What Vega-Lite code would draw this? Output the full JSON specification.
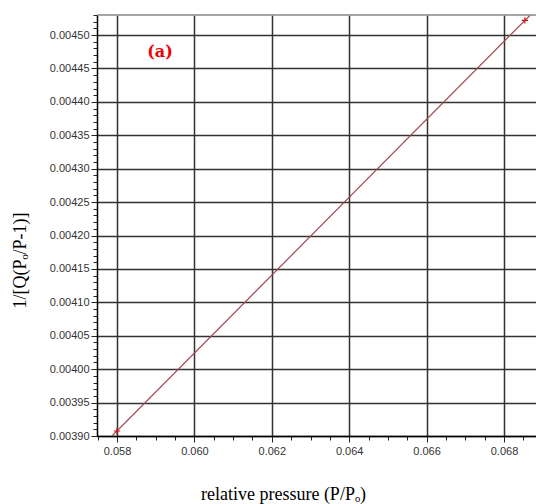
{
  "$schema": "https://vega.github.io/schema/vega-lite/v6.json",
  "autosize": "none",
  "width": 439,
  "height": 421,
  "padding": {"left": 97, "top": 15, "right": 0, "bottom": 68},
  "background": "white",
  "config": {
    "view": {"stroke": null},
    "axis": {"labelFont": "Liberation Sans", "labelFontSize": 11, "labelColor": "#333", "titleFont": "Liberation Serif", "titleFontSize": 18, "titleFontWeight": "normal", "titleColor": "#000", "domainColor": "#000", "domainWidth": 1.5, "tickColor": "#222", "gridColor": "#333", "gridWidth": 1.5, "labelOverlap": false, "labelFlush": false}
  },
  "datasets": {
    "pts": [
      {"p": 0.058, "v": 0.0039075},
      {"p": 0.06854, "v": 0.004522}
    ],
    "fit": [
      {"p": 0.05787, "v": 0.0039},
      {"p": 0.06868, "v": 0.00453}
    ],
    "lab": [
      {"p": 0.05911, "v": 0.004475, "t": "(a)"}
    ]
  },
  "layer": [
    {
      "data": {"name": "fit"},
      "mark": {"type": "line", "color": "#a04850", "strokeWidth": 1.2, "clip": true},
      "encoding": {
        "x": {
          "field": "p", "type": "quantitative",
          "scale": {"domain": [0.057483, 0.068827], "nice": false, "zero": false},
          "axis": {
            "values": [0.0575, 0.058, 0.0585, 0.059, 0.0595, 0.06, 0.0605, 0.061, 0.0615, 0.062, 0.0625, 0.063, 0.0635, 0.064, 0.0645, 0.065, 0.0655, 0.066, 0.0665, 0.067, 0.0675, 0.068, 0.0685],
            "tickCount": 500,
            "format": ".3f",
            "labelExpr": "abs(datum.value*500 - round(datum.value*500)) < 1e-6 ? datum.label : ''",
            "grid": true,
            "gridOpacity": {"condition": {"test": "abs(datum.value*500 - round(datum.value*500)) < 1e-6", "value": 1}, "value": 0},
            "tickSize": {"condition": {"test": "abs(datum.value*500 - round(datum.value*500)) < 1e-6", "value": 6}, "value": 4},
            "labelPadding": 3,
            "title": "relative pressure (P/Pₒ)",
            "titleX": 186,
            "titleY": 58,
            "titleAnchor": "middle",
            "titleBaseline": "middle"
          }
        },
        "y": {
          "field": "v", "type": "quantitative",
          "scale": {"domain": [0.0039, 0.00453], "nice": false, "zero": false},
          "axis": {
            "values": [0.0039, 0.00391, 0.00392, 0.00393, 0.00394, 0.00395, 0.00396, 0.00397, 0.00398, 0.00399, 0.004, 0.00401, 0.00402, 0.00403, 0.00404, 0.00405, 0.00406, 0.00407, 0.00408, 0.00409, 0.0041, 0.00411, 0.00412, 0.00413, 0.00414, 0.00415, 0.00416, 0.00417, 0.00418, 0.00419, 0.0042, 0.00421, 0.00422, 0.00423, 0.00424, 0.00425, 0.00426, 0.00427, 0.00428, 0.00429, 0.0043, 0.00431, 0.00432, 0.00433, 0.00434, 0.00435, 0.00436, 0.00437, 0.00438, 0.00439, 0.0044, 0.00441, 0.00442, 0.00443, 0.00444, 0.00445, 0.00446, 0.00447, 0.00448, 0.00449, 0.0045, 0.00451, 0.00452, 0.00453],
            "tickCount": 500,
            "format": ".5f",
            "labelExpr": "abs(datum.value*20000 - round(datum.value*20000)) < 1e-6 ? datum.label : ''",
            "grid": true,
            "gridOpacity": {"condition": {"test": "abs(datum.value*20000 - round(datum.value*20000)) < 1e-6", "value": 1}, "value": 0},
            "tickSize": {"condition": {"test": "abs(datum.value*20000 - round(datum.value*20000)) < 1e-6", "value": 6}, "value": 4},
            "labelPadding": 2,
            "title": "1/[Q(Pₒ/P-1)]",
            "titleX": -77,
            "titleY": 245,
            "titleAngle": -90,
            "titleAnchor": "middle",
            "titleBaseline": "middle",
            "titleAlign": "center"
          }
        }
      }
    },
    {
      "data": {"name": "pts"},
      "mark": {"type": "point", "shape": "M-1,0L1,0M0,-1L0,1", "color": "#cc1111", "size": 40, "strokeWidth": 1.2, "filled": false, "opacity": 1},
      "encoding": {
        "x": {"field": "p", "type": "quantitative"},
        "y": {"field": "v", "type": "quantitative"}
      }
    },
    {
      "data": {"name": "lab"},
      "mark": {"type": "text", "color": "#ee0000", "font": "DejaVu Serif", "fontSize": 16, "fontWeight": "bold"},
      "encoding": {
        "x": {"field": "p", "type": "quantitative"},
        "y": {"field": "v", "type": "quantitative"},
        "text": {"field": "t"}
      }
    },
    {
      "data": {"values": [{"v": 0.00453}]},
      "mark": {"type": "rule", "color": "#888", "strokeWidth": 1.5},
      "encoding": {"y": {"field": "v", "type": "quantitative"}}
    }
  ]
}
